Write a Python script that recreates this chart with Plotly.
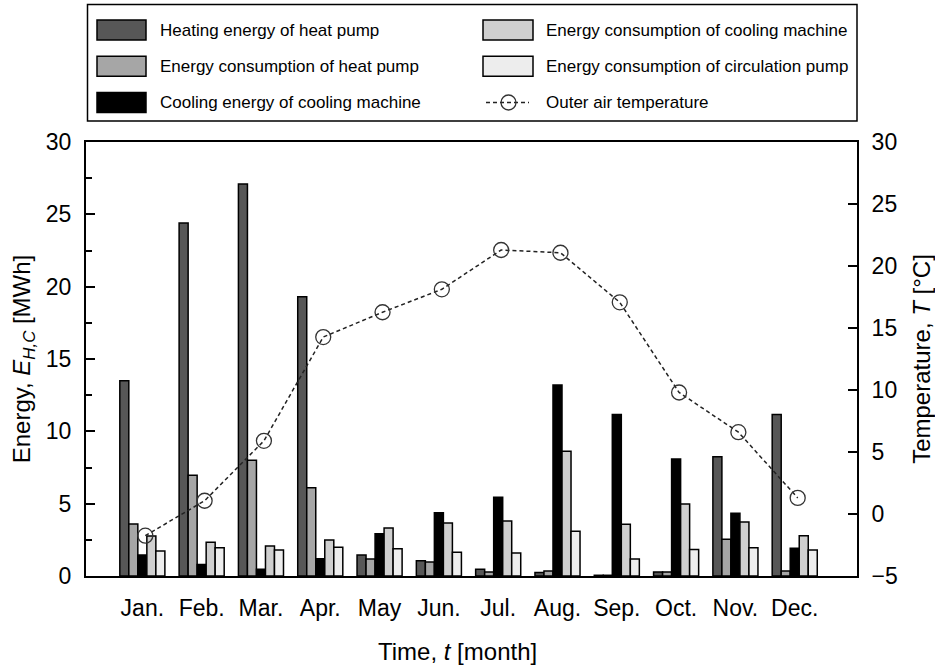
import plotly.graph_objects as go

# ---------------- data ----------------
months = ["Jan.", "Feb.", "Mar.", "Apr.", "May", "Jun.", "Jul.", "Aug.", "Sep.", "Oct.", "Nov.", "Dec."]
heating_hp = [13.5, 24.4, 27.1, 19.3, 1.45, 1.06, 0.46, 0.25, 0.05, 0.28, 8.25, 11.17]
cons_hp = [3.6, 6.96, 8.0, 6.1, 1.17, 0.97, 0.28, 0.35, 0.05, 0.28, 2.54, 0.35]
cooling_cm = [1.45, 0.8, 0.46, 1.2, 2.92, 4.38, 5.44, 13.2, 11.17, 8.09, 4.33, 1.91]
cons_cm = [2.76, 2.33, 2.07, 2.49, 3.32, 3.66, 3.8, 8.62, 3.57, 4.98, 3.73, 2.79]
cons_circ = [1.73, 1.96, 1.8, 1.98, 1.89, 1.64, 1.59, 3.09, 1.17, 1.84, 1.96, 1.8]
outer_temp = [-1.75, 1.07, 5.9, 14.27, 16.27, 18.12, 21.29, 21.07, 17.07, 9.8, 6.6, 1.3]

energy_ticks = [0, 5, 10, 15, 20, 25, 30]
temp_ticks = [-5, 0, 5, 10, 15, 20, 25, 30]

names = ["Heating energy of heat pump", "Energy consumption of heat pump",
         "Cooling energy of cooling machine", "Energy consumption of cooling machine",
         "Energy consumption of circulation pump"]
series = [heating_hp, cons_hp, cooling_cm, cons_cm, cons_circ]
colors = ["#575757", "#a6a6a6", "#000000", "#cfcfcf", "#ededed"]

# ---------------- layout constants ----------------
W, H = 935, 667
ML, MR, MT, MB = 86, 78, 142, 91
PW, PH = W - ML - MR, H - MT - MB
FONT = "Liberation Sans, Arial, sans-serif"


def px(x):
    return (x - ML) / PW


def py(y):
    return (H - MB - y) / PH


x_idx = list(range(len(months)))

fig = go.Figure()
for name, vals, col in zip(names, series, colors):
    fig.add_trace(go.Bar(
        x=x_idx, y=vals, name=name, showlegend=False,
        marker=dict(color=col, line=dict(color="black", width=1.5)),
    ))

fig.add_trace(go.Scatter(
    x=[i + 0.05 for i in x_idx], y=outer_temp, yaxis="y2",
    name="Outer air temperature", showlegend=False,
    mode="lines+markers",
    line=dict(color="#222222", width=1.5, dash="4px,3px"),
    marker=dict(symbol="circle-open", size=15, color="#333333", line=dict(width=1.3)),
))

# ---------------- manual legend ----------------
shapes = []
annotations = []
shapes.append(dict(type="rect", xref="paper", yref="paper",
                   x0=px(87.5), x1=px(857), y0=py(121), y1=py(4.5),
                   line=dict(color="black", width=1.5), fillcolor="white", layer="above"))
row_y = [30, 66.3, 102.5]
col_sw = [(97, 146), (483, 533)]
col_tx = [158, 544]
legend_slots = [(0, 0), (0, 1), (0, 2), (1, 0), (1, 1)]
for (c, r), name, col in zip(legend_slots, names, colors):
    yc = row_y[r]
    shapes.append(dict(type="rect", xref="paper", yref="paper",
                       x0=px(col_sw[c][0]), x1=px(col_sw[c][1]),
                       y0=py(yc + 10), y1=py(yc - 10),
                       line=dict(color="black", width=1.5), fillcolor=col, layer="above"))
    annotations.append(dict(xref="paper", yref="paper", x=px(col_tx[c]), y=py(yc),
                            text=name, showarrow=False, xanchor="left", yanchor="middle",
                            font=dict(family=FONT, size=17, color="black")))
# temperature legend entry
yc = row_y[2]
shapes.append(dict(type="line", xref="paper", yref="paper",
                   x0=px(486), x1=px(529), y0=py(yc), y1=py(yc),
                   line=dict(color="#222222", width=1.5, dash="4px,3px"), layer="above"))
shapes.append(dict(type="circle", xref="paper", yref="paper",
                   x0=px(508.5 - 7.5), x1=px(508.5 + 7.5), y0=py(yc + 7.5), y1=py(yc - 7.5),
                   line=dict(color="#333333", width=1.3), layer="above"))
annotations.append(dict(xref="paper", yref="paper", x=px(col_tx[1]), y=py(yc),
                        text="Outer air temperature", showarrow=False,
                        xanchor="left", yanchor="middle",
                        font=dict(family=FONT, size=17, color="black")))
# x-axis title
annotations.append(dict(xref="paper", yref="paper", x=px(457), y=py(651),
                        text="Time, <i>t</i> [month]", showarrow=False,
                        xanchor="center", yanchor="middle",
                        font=dict(family=FONT, size=24, color="black")))

fig.update_layout(
    width=W, height=H,
    margin=dict(l=ML, r=MR, t=MT, b=MB, pad=0, autoexpand=False),
    paper_bgcolor="white", plot_bgcolor="white",
    barmode="group", bargap=0.24, bargroupgap=0,
    font=dict(family=FONT, size=23, color="black"),
    showlegend=False,
    shapes=shapes, annotations=annotations,
    xaxis=dict(
        range=[-0.95, 12.05], tickmode="array", tickvals=x_idx, ticktext=months,
        showgrid=False, zeroline=False, ticks="", automargin=False,
        showline=True, linecolor="black", linewidth=2, mirror=True,
        tickfont=dict(size=23), ticklabelstandoff=10,
    ),
    yaxis=dict(
        range=[0, 30], tickmode="array", tickvals=energy_ticks,
        showgrid=False, zeroline=False, automargin=False,
        showline=True, linecolor="black", linewidth=2,
        ticks="inside", ticklen=9, tickwidth=2, tickcolor="black",
        minor=dict(dtick=2.5, ticks="inside", ticklen=6, tickwidth=2, tickcolor="black", showgrid=False),
        tickfont=dict(size=23), ticklabelstandoff=8,
        title=dict(text="Energy, <i>E</i><sub><i>H,C</i></sub> [MWh]", font=dict(size=24), standoff=8),
    ),
    yaxis2=dict(
        range=[-5, 30], tickmode="array", tickvals=temp_ticks,
        overlaying="y", side="right", anchor="x", automargin=False,
        showgrid=False, zeroline=False,
        showline=True, linecolor="black", linewidth=2,
        ticks="inside", ticklen=9, tickwidth=2, tickcolor="black",
        tickfont=dict(size=23), ticklabelstandoff=8,
        title=dict(text="Temperature, <i>T</i> [°C]", font=dict(size=24), standoff=16),
    ),
)

fig.write_html("out.html")
